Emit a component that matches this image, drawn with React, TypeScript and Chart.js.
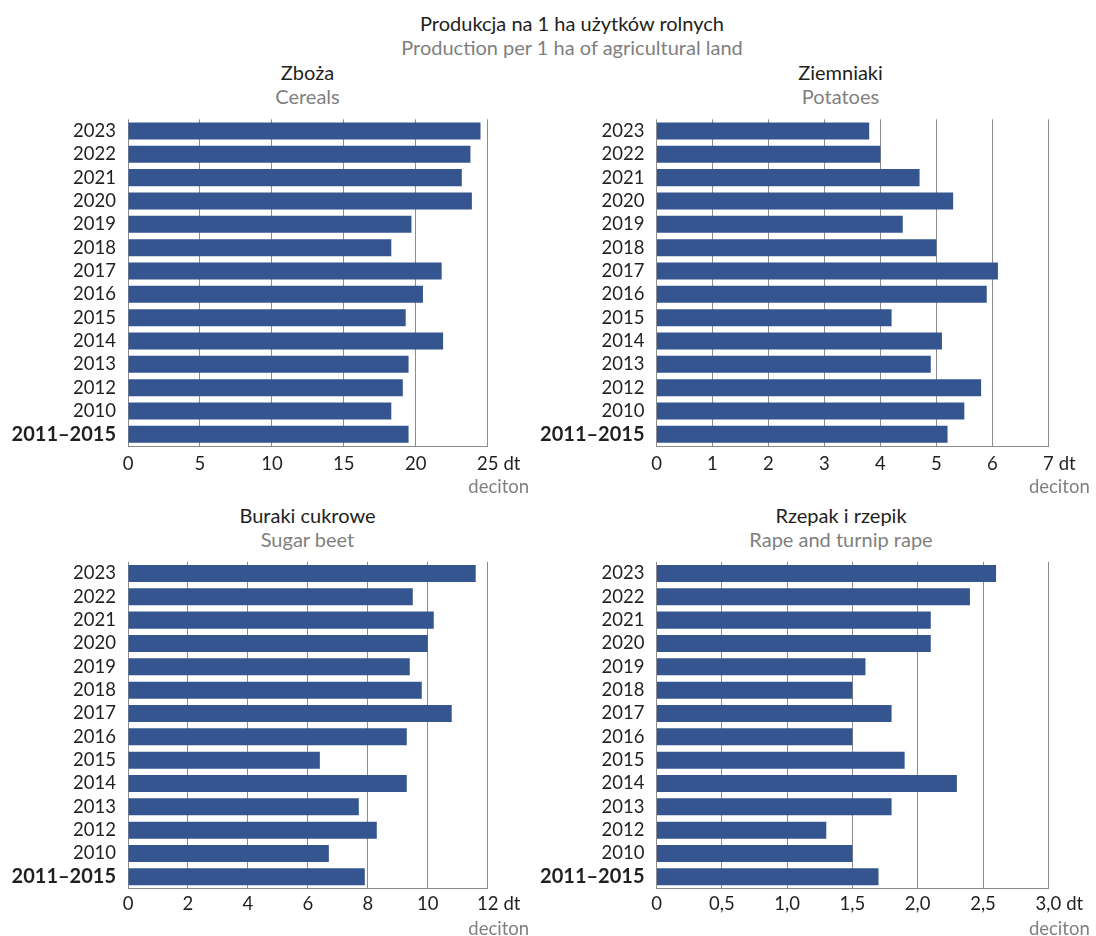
import React, { useEffect, useRef } from 'react';
import { Chart, registerables } from 'chart.js';

Chart.register(...registerables);

// ---------- data ----------
const categories = ['2023', '2022', '2021', '2020', '2019', '2018', '2017', '2016', '2015', '2014', '2013', '2012', '2010', '2011–2015'];

const cerealsValues = [24.5, 23.8, 23.2, 23.9, 19.7, 18.3, 21.8, 20.5, 19.3, 21.9, 19.5, 19.1, 18.3, 19.5];
const potatoesValues = [3.8, 4.0, 4.7, 5.3, 4.4, 5.0, 6.1, 5.9, 4.2, 5.1, 4.9, 5.8, 5.5, 5.2];
const sugarBeetValues = [11.6, 9.5, 10.2, 10.0, 9.4, 9.8, 10.8, 9.3, 6.4, 9.3, 7.7, 8.3, 6.7, 7.9];
const rapeValues = [2.6, 2.4, 2.1, 2.1, 1.6, 1.5, 1.8, 1.5, 1.9, 2.3, 1.8, 1.3, 1.5, 1.7];

const cerealsTicks = [0, 5, 10, 15, 20, 25];
const cerealsTickLabels = ['0', '5', '10', '15', '20', '25'];
const potatoesTicks = [0, 1, 2, 3, 4, 5, 6, 7];
const potatoesTickLabels = ['0', '1', '2', '3', '4', '5', '6', '7'];
const sugarBeetTicks = [0, 2, 4, 6, 8, 10, 12];
const sugarBeetTickLabels = ['0', '2', '4', '6', '8', '10', '12'];
const rapeTicks = [0, 0.5, 1.0, 1.5, 2.0, 2.5, 3.0];
const rapeTickLabels = ['0', '0,5', '1,0', '1,5', '2,0', '2,5', '3,0'];

const mainTitle = 'Produkcja na 1 ha użytków rolnych';
const mainSubtitle = 'Production per 1 ha of agricultural land';
const unitLabel = 'dt';
const unitNote = 'deciton';

// ---------- style ----------
const FONT = 'Lato, "Open Sans", sans-serif';
const TICK_SIZE = 18.5;
const TEXT = '#231f20';
const GRAY_TEXT = '#7f7f7f';
const BAR = '#34558f';
const GRID = '#8c8c8c';

type PanelProps = {
  left: number;
  top: number;
  width: number;
  height: number;
  axisWidth: number;
  padTop: number;
  padRight: number;
  xAxisHeight: number;
  tickPad: number;
  values: number[];
  ticks: number[];
  tickLabels: string[];
};

function Panel(p: PanelProps) {
  const ref = useRef<HTMLCanvasElement | null>(null);
  useEffect(() => {
    if (!ref.current) return;
    const tickValues = p.ticks;
    const unitPlugin = {
      id: 'unitPlugin',
      afterDraw(chart: any) {
        const xs = chart.scales.x;
        const ctx = chart.ctx;
        const lastVal = tickValues[tickValues.length - 1];
        const lastLabel = p.tickLabels[p.tickLabels.length - 1];
        const px = xs.getPixelForValue(lastVal);
        const y = chart.chartArea.bottom + p.tickPad + (TICK_SIZE * 1.2) / 2;
        ctx.save();
        ctx.font = `${TICK_SIZE}px ${FONT}`;
        const lw = ctx.measureText(lastLabel).width;
        ctx.fillStyle = TEXT;
        ctx.textAlign = 'left';
        ctx.textBaseline = 'middle';
        ctx.fillText(unitLabel, px + lw / 2 + 5, y);
        ctx.fillStyle = GRAY_TEXT;
        ctx.textAlign = 'center';
        ctx.fillText(unitNote, px + 11, chart.chartArea.bottom + 41);
        ctx.restore();
      },
    };
    const chart = new Chart(ref.current, {
      type: 'bar',
      data: {
        labels: categories,
        datasets: [
          {
            data: p.values,
            backgroundColor: BAR,
            borderWidth: 0,
            categoryPercentage: 1,
            barPercentage: 0.73,
          },
        ],
      },
      options: {
        indexAxis: 'y',
        animation: false,
        responsive: false,
        maintainAspectRatio: false,
        events: [],
        layout: { padding: { top: p.padTop, right: p.padRight, left: 0, bottom: 0 } },
        plugins: { legend: { display: false }, tooltip: { enabled: false }, title: { display: false } },
        scales: {
          x: {
            type: 'linear',
            min: tickValues[0],
            max: tickValues[tickValues.length - 1],
            afterBuildTicks: (scale: any) => {
              scale.ticks = tickValues.map((v) => ({ value: v }));
            },
            afterFit: (scale: any) => {
              scale.height = p.xAxisHeight;
            },
            grid: { display: true, color: GRID, lineWidth: 1, drawTicks: false, drawOnChartArea: true },
            border: { display: true, color: GRID, width: 1 },
            ticks: {
              padding: p.tickPad,
              color: TEXT,
              font: { family: FONT, size: TICK_SIZE },
              maxRotation: 0,
              autoSkip: false,
              callback: (value: any) => {
                const i = tickValues.indexOf(Number(value));
                return i >= 0 ? p.tickLabels[i] : '';
              },
            },
          },
          y: {
            type: 'category',
            afterFit: (scale: any) => {
              scale.width = p.axisWidth;
              scale.paddingTop = 0;
              scale.paddingBottom = 0;
            },
            grid: { display: false, drawTicks: false },
            border: { display: false },
            ticks: {
              padding: 12,
              color: TEXT,
              autoSkip: false,
              font: (ctx: any) =>
                ctx.index === categories.length - 1
                  ? { family: FONT, size: 20, weight: 'bold' }
                  : { family: FONT, size: TICK_SIZE, weight: 'normal' },
            },
          },
        },
      },
      plugins: [unitPlugin],
    } as any);
    return () => chart.destroy();
  }, []);
  return (
    <canvas
      ref={ref}
      width={p.width}
      height={p.height}
      style={{ position: 'absolute', left: p.left, top: p.top, width: p.width, height: p.height }}
    />
  );
}

function Title(props: { cx: number; top: number; size: number; lh: number; line1: string; line2: string }) {
  return (
    <div
      style={{
        position: 'absolute',
        left: props.cx - 300,
        width: 600,
        top: props.top,
        textAlign: 'center',
        fontFamily: FONT,
        fontSize: props.size,
        lineHeight: `${props.lh}px`,
        whiteSpace: 'nowrap',
      }}
    >
      <div style={{ color: TEXT }}>{props.line1}</div>
      <div style={{ color: GRAY_TEXT }}>{props.line2}</div>
    </div>
  );
}

export default function App() {
  return (
    <div style={{ position: 'absolute', left: 0, top: 0, width: 1096, height: 936, overflow: 'hidden', background: '#fff' }}>
      <Title cx={572} top={12.2} size={20} lh={23.5} line1={mainTitle} line2={mainSubtitle} />
      <Title cx={307.5} top={60.3} size={20} lh={24} line1="Zboża" line2="Cereals" />
      <Title cx={840.5} top={60.3} size={20} lh={24} line1="Ziemniaki" line2="Potatoes" />
      <Title cx={307.5} top={502.8} size={20} lh={24} line1="Buraki cukrowe" line2="Sugar beet" />
      <Title cx={841} top={502.8} size={20} lh={24} line1="Rzepak i rzepik" line2="Rape and turnip rape" />

      <Panel left={0} top={100} width={530} height={410} axisWidth={128} padTop={19.3} padRight={42.3}
        xAxisHeight={64} tickPad={6.6} values={cerealsValues} ticks={cerealsTicks} tickLabels={cerealsTickLabels} />
      <Panel left={530} top={100} width={566} height={410} axisWidth={126.5} padTop={19.3} padRight={47.7}
        xAxisHeight={64} tickPad={6.6} values={potatoesValues} ticks={potatoesTicks} tickLabels={potatoesTickLabels} />
      <Panel left={0} top={542} width={530} height={394} axisWidth={128} padTop={19.8} padRight={42.3}
        xAxisHeight={47.5} tickPad={4} values={sugarBeetValues} ticks={sugarBeetTicks} tickLabels={sugarBeetTickLabels} />
      <Panel left={530} top={542} width={566} height={394} axisWidth={126.5} padTop={19.8} padRight={47.7}
        xAxisHeight={47.5} tickPad={4} values={rapeValues} ticks={rapeTicks} tickLabels={rapeTickLabels} />
    </div>
  );
}
